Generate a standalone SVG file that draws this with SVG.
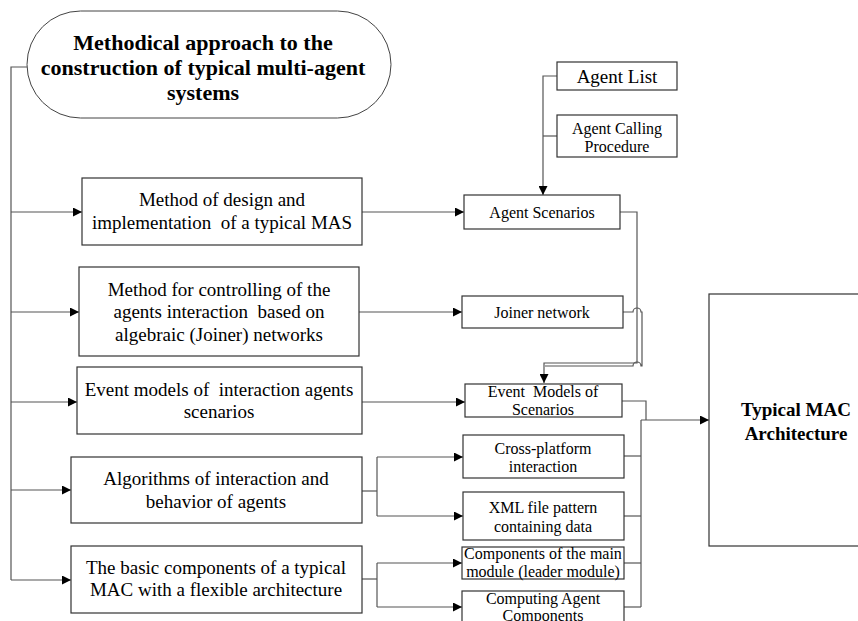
<svg xmlns="http://www.w3.org/2000/svg" width="858" height="621" viewBox="0 0 858 621" font-family="'Liberation Serif', 'Times New Roman', 'DejaVu Serif', serif">
<style>
.box{fill:#fff;stroke:#333;stroke-width:1.2}
.oval{fill:#fff;stroke:#444;stroke-width:1}
text{font-family:'Liberation Serif','Times New Roman','DejaVu Serif',serif;fill:#000;text-anchor:middle}
.l{font-size:19px}
.s{font-size:16px}
.b{font-weight:bold}
.c{fill:none;stroke:#555;stroke-width:1.2}
</style>
<defs>
<marker id="ar" viewBox="0 0 10 10" refX="10" refY="5" markerWidth="10" markerHeight="9" markerUnits="userSpaceOnUse" orient="auto">
<path d="M0,0 L10,5 L0,10 Z" fill="#000"/>
</marker>
</defs>
<rect width="858" height="621" fill="#fff"/>
<g id="connectors">
<path class="c" d="M27,67 H11 V580"/>
<path class="c" d="M11,212 H82" marker-end="url(#ar)"/>
<path class="c" d="M11,312 H79" marker-end="url(#ar)"/>
<path class="c" d="M11,402 H77" marker-end="url(#ar)"/>
<path class="c" d="M11,490 H71" marker-end="url(#ar)"/>
<path class="c" d="M11,580 H71" marker-end="url(#ar)"/>
<path class="c" d="M362,212 H464" marker-end="url(#ar)"/>
<path class="c" d="M359,312 H462" marker-end="url(#ar)"/>
<path class="c" d="M362,402 H465" marker-end="url(#ar)"/>
<path class="c" d="M362,491 H377"/>
<path class="c" d="M377,457 V516"/>
<path class="c" d="M377,457 H463" marker-end="url(#ar)"/>
<path class="c" d="M377,516 H463" marker-end="url(#ar)"/>
<path class="c" d="M362,579 H377"/>
<path class="c" d="M377,563 V607"/>
<path class="c" d="M377,563 H462" marker-end="url(#ar)"/>
<path class="c" d="M377,607 H462" marker-end="url(#ar)"/>
<path class="c" d="M557,76 H543 V195" marker-end="url(#ar)"/>
<path class="c" d="M557,136 H543"/>
<path class="c" d="M620,212 H637 V363 H544 V383" marker-end="url(#ar)"/>
<path class="c" d="M623,312 H633 A4,4 0 0 1 641,312 H642 V366 H641 A4,4 0 0 0 633,366 H545"/>
<path class="c" d="M622,401 H646 V420"/>
<path class="c" d="M641,420 H709" marker-end="url(#ar)"/>
<path class="c" d="M641,420 V607"/>
<path class="c" d="M624,456 H641"/>
<path class="c" d="M624,516 H641"/>
<path class="c" d="M624,563 H641"/>
<path class="c" d="M624,607 H641"/>
</g>
<g id="root">
<rect class="oval" x="27" y="11" width="364" height="107" rx="53.5" ry="53.5"/>
<text class="b" font-size="22" x="203" y="50">Methodical approach to the</text>
<text class="b" font-size="22" x="203" y="75">construction of typical multi-agent</text>
<text class="b" font-size="22" x="203" y="100">systems</text>
</g>
<g id="m1">
<rect class="box" x="82" y="178" width="280" height="67"/>
<text class="l" x="222" y="206">Method of design and</text>
<text class="l" x="222" y="229" xml:space="preserve">implementation  of a typical MAS</text>
</g>
<g id="m2">
<rect class="box" x="79" y="267" width="280" height="89"/>
<text class="l" x="219" y="296">Method for controlling of the</text>
<text class="l" x="219" y="318" xml:space="preserve">agents interaction  based on</text>
<text class="l" x="219" y="341">algebraic (Joiner) networks</text>
</g>
<g id="m3">
<rect class="box" x="77" y="367" width="285" height="67"/>
<text class="l" x="219" y="396" xml:space="preserve">Event models of  interaction agents</text>
<text class="l" x="219" y="418">scenarios</text>
</g>
<g id="m4">
<rect class="box" x="71" y="457" width="291" height="66"/>
<text class="l" x="216" y="485">Algorithms of interaction and</text>
<text class="l" x="216" y="508">behavior of agents</text>
</g>
<g id="m5">
<rect class="box" x="71" y="546" width="291" height="67"/>
<text class="l" x="216" y="574">The basic components of a typical</text>
<text class="l" x="216" y="596">MAC with a flexible architecture</text>
</g>
<g id="agentList">
<rect class="box" x="557" y="62" width="120" height="28"/>
<text font-size="19" x="617" y="83">Agent List</text>
</g>
<g id="agentCalling">
<rect class="box" x="557" y="115" width="120" height="42"/>
<text class="s" x="617" y="134">Agent Calling</text>
<text class="s" x="617" y="152">Procedure</text>
</g>
<g id="agentScenarios">
<rect class="box" x="464" y="195" width="156" height="34"/>
<text class="s" x="542" y="218">Agent Scenarios</text>
</g>
<g id="joiner">
<rect class="box" x="462" y="296" width="161" height="32"/>
<text class="s" x="542" y="318">Joiner network</text>
</g>
<g id="eventModels">
<rect class="box" x="465" y="384" width="157" height="33"/>
<text class="s" x="543" y="397" xml:space="preserve">Event  Models of</text>
<text class="s" x="543" y="415">Scenarios</text>
</g>
<g id="crossPlatform">
<rect class="box" x="463" y="435" width="161" height="43"/>
<text class="s" x="543" y="454">Cross-platform</text>
<text class="s" x="543" y="472">interaction</text>
</g>
<g id="xml">
<rect class="box" x="463" y="492" width="161" height="48"/>
<text class="s" x="543" y="513">XML file pattern</text>
<text class="s" x="543" y="532">containing data</text>
</g>
<g id="components">
<rect class="box" x="462" y="547" width="162" height="32"/>
<text class="s" x="543" y="559">Components of the main</text>
<text class="s" x="543" y="577">module (leader module)</text>
</g>
<g id="computing">
<rect class="box" x="462" y="591" width="162" height="50"/>
<text class="s" x="543" y="604">Computing Agent</text>
<text class="s" x="543" y="621">Components</text>
</g>
<g id="typicalMAC">
<rect class="box" x="709" y="294" width="160" height="252"/>
<text class="b" font-size="19" x="796" y="416">Typical MAC</text>
<text class="b" font-size="19" x="796" y="440">Architecture</text>
</g>
</svg>
